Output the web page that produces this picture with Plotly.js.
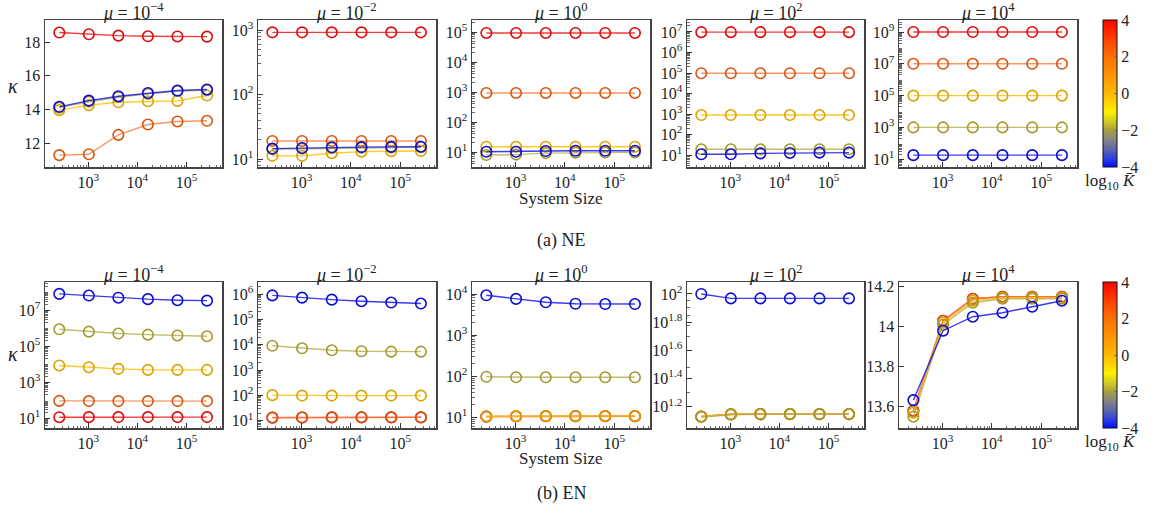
<!DOCTYPE html>
<html><head><meta charset="utf-8">
<script src="https://cdn.plot.ly/plotly-3.0.1.min.js"></script>
<style>html,body{margin:0;padding:0;background:#fff}#chart{width:1158px;height:520px}</style>
</head><body><div id="chart"></div>
<script>
// ---------------- DATA ----------------
const systemSize = [256, 1024, 4096, 16384, 65536, 262144];
const logKbar = [-4, -2, 0, 2, 4];
const muExponents = ['−4', '−2', '0', '2', '4'];

// (a) NE : rows in order of logKbar (-4, -2, 0, 2, 4)
const NE_mu_m4 = [
  [14.15, 14.52, 14.78, 14.97, 15.12, 15.18],
  [14.10, 14.45, 14.72, 14.92, 15.07, 15.14],
  [13.95, 14.25, 14.42, 14.48, 14.50, 14.82],
  [11.28, 11.33, 12.48, 13.10, 13.28, 13.32],
  [18.56, 18.46, 18.38, 18.34, 18.33, 18.32]
];
const NE_mu_m2 = [
  [14.5, 14.8, 15.2, 15.3, 15.4, 15.5],
  [14.2, 14.5, 14.8, 15.0, 15.1, 15.2],
  [11.2, 11.2, 12.3, 13.0, 13.2, 13.3],
  [19.0, 19.0, 19.0, 19.0, 19.0, 19.0],
  [920, 920, 920, 920, 920, 920]
];
const NE_mu_0 = [
  [10.2, 10.2, 10.8, 11.0, 11.0, 11.0],
  [7.9, 8.2, 9.2, 9.5, 9.6, 9.7],
  [15.0, 15.0, 15.0, 15.0, 15.0, 15.0],
  [930, 930, 930, 930, 930, 930],
  [93000, 93000, 93000, 93000, 93000, 93000]
];
const NE_mu_2 = [
  [10.8, 10.8, 12.0, 12.6, 13.0, 13.0],
  [19, 19, 19, 19, 19, 19],
  [890, 890, 890, 890, 890, 890],
  [97000, 97000, 97000, 97000, 97000, 97000],
  [9.8e6, 9.8e6, 9.8e6, 9.8e6, 9.8e6, 9.8e6]
];
const NE_mu_4 = [
  [18, 18, 18, 18, 18, 18],
  [1000, 1000, 1000, 1000, 1000, 1000],
  [1e5, 1e5, 1e5, 1e5, 1e5, 1e5],
  [1e7, 1e7, 1e7, 1e7, 1e7, 1e7],
  [1e9, 1e9, 1e9, 1e9, 1e9, 1e9]
];

// (b) EN
const EN_mu_m4 = [
  [7.8e7, 6.3e7, 4.8e7, 4.0e7, 3.5e7, 3.3e7],
  [8.5e5, 6.3e5, 5.0e5, 4.3e5, 3.9e5, 3.5e5],
  [8.5e3, 6.8e3, 5.5e3, 4.8e3, 4.8e3, 4.8e3],
  [92, 90, 90, 90, 90, 90],
  [11.5, 11.6, 11.7, 11.7, 11.7, 11.7]
];
const EN_mu_m2 = [
  [8.8e5, 7.2e5, 6.0e5, 5.2e5, 4.6e5, 4.2e5],
  [9.1e3, 7.2e3, 6.0e3, 5.5e3, 5.3e3, 5.3e3],
  [102, 98, 98, 98, 98, 98],
  [13.4, 13.5, 13.6, 13.6, 13.6, 13.6],
  [13.2, 13.4, 13.5, 13.5, 13.5, 13.5]
];
const EN_mu_0 = [
  [9.3e3, 7.6e3, 6.3e3, 5.8e3, 5.7e3, 5.7e3],
  [97, 94, 94, 94, 94, 94],
  [10.6, 10.7, 10.8, 10.8, 10.8, 10.8],
  [10.5, 10.6, 10.7, 10.7, 10.7, 10.7],
  [10.4, 10.5, 10.6, 10.6, 10.6, 10.6]
];
const EN_mu_2 = [
  [100, 93, 93, 93, 93, 93],
  [13.4, 13.9, 14.0, 14.0, 14.0, 14.0],
  [13.5, 14.0, 14.05, 14.05, 14.05, 14.05],
  [13.5, 14.0, 14.05, 14.05, 14.05, 14.05],
  [13.5, 14.0, 14.05, 14.05, 14.05, 14.05]
];
const EN_mu_4 = [
  [13.633, 13.98, 14.05, 14.07, 14.10, 14.13],
  [13.55, 14.01, 14.12, 14.14, 14.14, 14.14],
  [13.57, 14.02, 14.13, 14.145, 14.145, 14.145],
  [13.58, 14.03, 14.14, 14.15, 14.15, 14.15],
  [13.58, 14.03, 14.14, 14.15, 14.15, 14.15]
];

// ---------------- STYLE / LAYOUT ----------------
const W = 1158, H = 520;
const fx = p => p / W, fy = p => 1 - p / H;
const colX = [[45, 222], [258, 436], [472, 650], [687, 864], [899, 1077]];
const rowY = [[20, 167], [282, 428]];
const markerColors = ['#0c0cd8', '#a39a2c', '#dba300', '#d9540e', '#dd0a0a'];
const lineColors = ['rgba(25,25,240,0.85)', 'rgba(180,172,70,0.8)', 'rgba(255,192,0,0.85)', 'rgba(250,125,55,0.8)', 'rgba(245,25,25,0.85)'];
const drawOrder = [4, 3, 2, 1, 0];
const FONT = 'Liberation Serif, DejaVu Serif, serif';
const TXT = '#222';

const panelData = [
  [NE_mu_m4, NE_mu_m2, NE_mu_0, NE_mu_2, NE_mu_4],
  [EN_mu_m4, EN_mu_m2, EN_mu_0, EN_mu_2, EN_mu_4]
];

function sup(e) { return '10<sup>' + e + '</sup>'; }
function logTicks(exps) { return { tickvals: exps.map(e => Math.pow(10, e)), ticktext: exps.map(e => sup(String(e))) }; }
function minorLog(lo, hi) {
  const v = [];
  for (let d = Math.floor(lo) - 1; d <= Math.ceil(hi); d++)
    for (let m = 2; m <= 9; m++) { const t = m * Math.pow(10, d); const l = Math.log10(t); if (l > lo && l < hi) v.push(t); }
  return v;
}

const yCfg = [
  [
    { type: 'linear', range: [10.574, 19.307], tickvals: [12, 14, 16, 18], ticktext: ['12', '14', '16', '18'] },
    Object.assign({ type: 'log', range: [0.876, 3.155] }, logTicks([1, 2, 3])),
    Object.assign({ type: 'log', range: [0.5, 5.4] }, logTicks([1, 2, 3, 4, 5])),
    Object.assign({ type: 'log', range: [0.415, 7.585] }, logTicks([1, 2, 3, 4, 5, 6, 7])),
    Object.assign({ type: 'log', range: [0.51, 9.755] }, logTicks([1, 3, 5, 7, 9]))
  ],
  [
    Object.assign({ type: 'log', range: [0.463, 8.551] }, logTicks([1, 3, 5, 7])),
    Object.assign({ type: 'log', range: [0.712, 6.474] }, logTicks([1, 2, 3, 4, 5, 6])),
    Object.assign({ type: 'log', range: [0.74, 4.292] }, logTicks([1, 2, 3, 4])),
    { type: 'log', range: [1.049, 2.085], tickvals: [1.2, 1.4, 1.6, 1.8, 2].map(e => Math.pow(10, e)), ticktext: ['1.2', '1.4', '1.6', '1.8', '2'].map(sup) },
    { type: 'linear', range: [13.4935, 14.2235], tickvals: [13.6, 13.8, 14, 14.2], ticktext: ['13.6', '13.8', '14', '14.2'] }
  ]
];

const xRange = [2.117, 5.724];
const traces = [];
const layout = {
  width: W, height: H, margin: { l: 0, r: 0, t: 0, b: 0 },
  paper_bgcolor: '#fff', plot_bgcolor: '#fff', showlegend: false,
  font: { family: FONT, size: 16, color: TXT },
  annotations: []
};

let idx = 0;
for (let r = 0; r < 2; r++) {
  for (let c = 0; c < 5; c++) {
    idx++;
    const xa = idx === 1 ? 'x' : 'x' + idx, ya = idx === 1 ? 'y' : 'y' + idx;
    const xk = idx === 1 ? 'xaxis' : 'xaxis' + idx, yk = idx === 1 ? 'yaxis' : 'yaxis' + idx;
    const data = panelData[r][c];
    drawOrder.forEach(k => {
      traces.push({
        x: systemSize, y: data[k], xaxis: xa, yaxis: ya, type: 'scatter', mode: 'lines+markers',
        line: { color: lineColors[k], width: 1.4 },
        marker: { symbol: 'circle-open', size: 10.5, color: markerColors[k], line: { width: 1.6, color: markerColors[k] } },
        hoverinfo: 'skip', cliponaxis: false
      });
    });
    layout[xk] = {
      domain: [fx(colX[c][0]), fx(colX[c][1])], anchor: ya, type: 'log', range: xRange,
      tickvals: [1e3, 1e4, 1e5], ticktext: [sup('3'), sup('4'), sup('5')],
      ticks: 'inside', ticklen: 5, tickwidth: 1, tickcolor: '#333',
      showline: true, mirror: true, linecolor: '#444', linewidth: 1.5,
      showgrid: false, zeroline: false, tickfont: { size: 16, family: FONT, color: TXT },
      minor: { tickmode: 'array', tickvals: minorLog(xRange[0], xRange[1]), ticks: 'inside', ticklen: 2.5, tickwidth: 0.8, tickcolor: '#444', showgrid: false }
    };
    const yc = yCfg[r][c];
    const ax = {
      domain: [fy(rowY[r][1]), fy(rowY[r][0])], anchor: xa, type: yc.type, range: yc.range,
      tickmode: 'array', tickvals: yc.tickvals, ticktext: yc.ticktext,
      ticks: 'inside', ticklen: 5, tickwidth: 1, tickcolor: '#333',
      showline: true, mirror: true, linecolor: '#444', linewidth: 1.5,
      showgrid: false, zeroline: false, tickfont: { size: 16, family: FONT, color: TXT }
    };
    if (yc.type === 'log') {
      ax.minor = { tickmode: 'array', tickvals: minorLog(yc.range[0], yc.range[1]), ticks: 'inside', ticklen: 2.5, tickwidth: 0.8, tickcolor: '#444', showgrid: false };
    }
    layout[yk] = ax;
    // subplot title
    layout.annotations.push({
      xref: 'paper', yref: 'paper', x: fx((colX[c][0] + colX[c][1]) / 2), y: fy(rowY[r][0] + 5),
      xanchor: 'center', yanchor: 'bottom', showarrow: false,
      text: '<i>μ</i> = ' + sup(muExponents[c]), font: { size: 18, family: FONT, color: TXT }
    });
  }
  // colorbar holder
  const lastX = 'x' + (r * 5 + 5), lastY = 'y' + (r * 5 + 5);
  traces.push({
    x: [1e9, 1e9], y: [1e20, 1e20], xaxis: lastX, yaxis: lastY, type: 'scatter', mode: 'markers',
    hoverinfo: 'skip', showlegend: false,
    marker: {
      color: [logKbar[0], logKbar[logKbar.length - 1]], cmin: -4, cmax: 4, size: 1, opacity: 0,
      colorscale: [[0, '#0010ff'], [0.06, '#3040dd'], [0.125, '#6068a8'], [0.19, '#878780'], [0.25, '#a8a040'],
        [0.31, '#d0cc20'], [0.375, '#fff000'], [0.44, '#ffd400'], [0.5, '#ffb800'], [0.625, '#ff9400'],
        [0.75, '#ff7000'], [0.875, '#ff3e00'], [1, '#ff0000']],
      showscale: true,
      colorbar: {
        x: fx(1103), xanchor: 'left', y: fy((rowY[r][0] + rowY[r][1]) / 2), yanchor: 'middle',
        len: (rowY[r][1] - rowY[r][0]) / H, lenmode: 'fraction', thickness: 14, thicknessmode: 'pixels',
        xpad: 0, ypad: 0, outlinewidth: 1, outlinecolor: '#111',
        tickmode: 'array', tickvals: logKbar, ticktext: ['−4', '−2', '0', '2', '4'],
        ticks: 'inside', ticklen: 3, tickcolor: '#777', tickfont: { size: 16, family: FONT, color: TXT }
      }
    }
  });
  // colorbar label
  layout.annotations.push({
    xref: 'paper', yref: 'paper', x: fx(1110), y: fy(rowY[r][1] + 15), xanchor: 'center', yanchor: 'middle',
    showarrow: false, text: 'log<sub>10</sub> <i>K̄</i>', font: { size: 17, family: FONT, color: TXT }
  });
  // y label
  layout.annotations.push({
    xref: 'paper', yref: 'paper', x: fx(13), y: fy(r === 0 ? 86 : 354), xanchor: 'center', yanchor: 'middle',
    showarrow: false, text: '<i>κ</i>', font: { size: 20, family: FONT, color: TXT }
  });
  // x label
  layout.annotations.push({
    xref: 'paper', yref: 'paper', x: fx(561), y: fy(r === 0 ? 198 : 458), xanchor: 'center', yanchor: 'middle',
    showarrow: false, text: 'System Size', font: { size: 17, family: FONT, color: TXT }
  });
  // caption
  layout.annotations.push({
    xref: 'paper', yref: 'paper', x: fx(561), y: fy(r === 0 ? 240 : 493), xanchor: 'center', yanchor: 'middle',
    showarrow: false, text: r === 0 ? '(a) NE' : '(b) EN', font: { size: 18, family: FONT, color: TXT }
  });
}

Plotly.newPlot('chart', traces, layout, { staticPlot: true, displayModeBar: false });
</script></body></html>
